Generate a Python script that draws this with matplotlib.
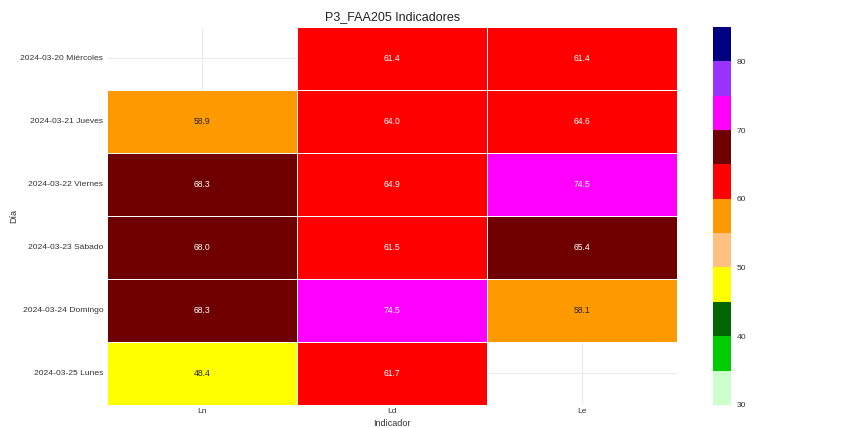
import numpy as np
import pandas as pd
import matplotlib
matplotlib.use('Agg')
import matplotlib.pyplot as plt
from matplotlib.colors import ListedColormap, BoundaryNorm
import seaborn as sns

# datos
dias = ['2024-03-20 Miércoles', '2024-03-21 Jueves', '2024-03-22 Viernes',
        '2024-03-23 Sábado', '2024-03-24 Domingo', '2024-03-25 Lunes']
indicadores = ['Ln', 'Ld', 'Le']
ln = [np.nan, 58.9, 68.3, 68.0, 68.3, 48.4]
ld = [61.4, 64.0, 64.9, 61.5, 74.5, 61.7]
le = [61.4, 64.6, 74.5, 65.4, 58.1, np.nan]

limites = [30, 35, 40, 45, 50, 55, 60, 65, 70, 75, 80, 85]
colores = ['#ccffcc', '#00cc00', '#006600', '#ffff00', '#ffc080', '#ff9900',
           '#ff0000', '#700000', '#ff00ff', '#9933ff', '#000080']
cbar_ticks = [30, 40, 50, 60, 70, 80]

df = pd.DataFrame({'Ln': ln, 'Ld': ld, 'Le': le}, index=dias)[indicadores]

sns.set_style('whitegrid')
plt.rcParams['font.family'] = ['Liberation Sans', 'DejaVu Sans']

cmap = ListedColormap(colores)
norm = BoundaryNorm(limites, cmap.N)

fig = plt.figure(figsize=(8.66, 4.28), dpi=100)
ax = fig.add_axes([0.124, 0.054, 0.658, 0.883])
cax = fig.add_axes([0.823, 0.054, 0.021, 0.883])

sns.heatmap(df, ax=ax, cbar_ax=cax, cmap=cmap, norm=norm, annot=True, fmt='.1f',
            linewidths=0.5, linecolor='white', annot_kws={'fontsize': 6.2},
            cbar_kws={'ticks': cbar_ticks})
ax.set_axisbelow(True)
ax.grid(True, color='#ebebeb', linewidth=0.8)
ax.set_title('P3_FAA205 Indicadores', fontsize=9, color='#222222', pad=5)
ax.set_xlabel('Indicador', fontsize=6.5, color='#333333', labelpad=3)
ax.set_ylabel('Día', fontsize=6.5, color='#333333')
ax.yaxis.set_label_coords(-0.156, 0.5)
ax.tick_params(axis='both', labelsize=6.1, colors='#333333', length=0, pad=3)
ax.tick_params(axis='x', pad=2)
plt.setp(ax.get_yticklabels(), rotation=0)
cax.minorticks_off()
cax.tick_params(which='both', labelsize=6.1, colors='#333333', length=0, pad=4)

fig.savefig('out.png', dpi=100)
